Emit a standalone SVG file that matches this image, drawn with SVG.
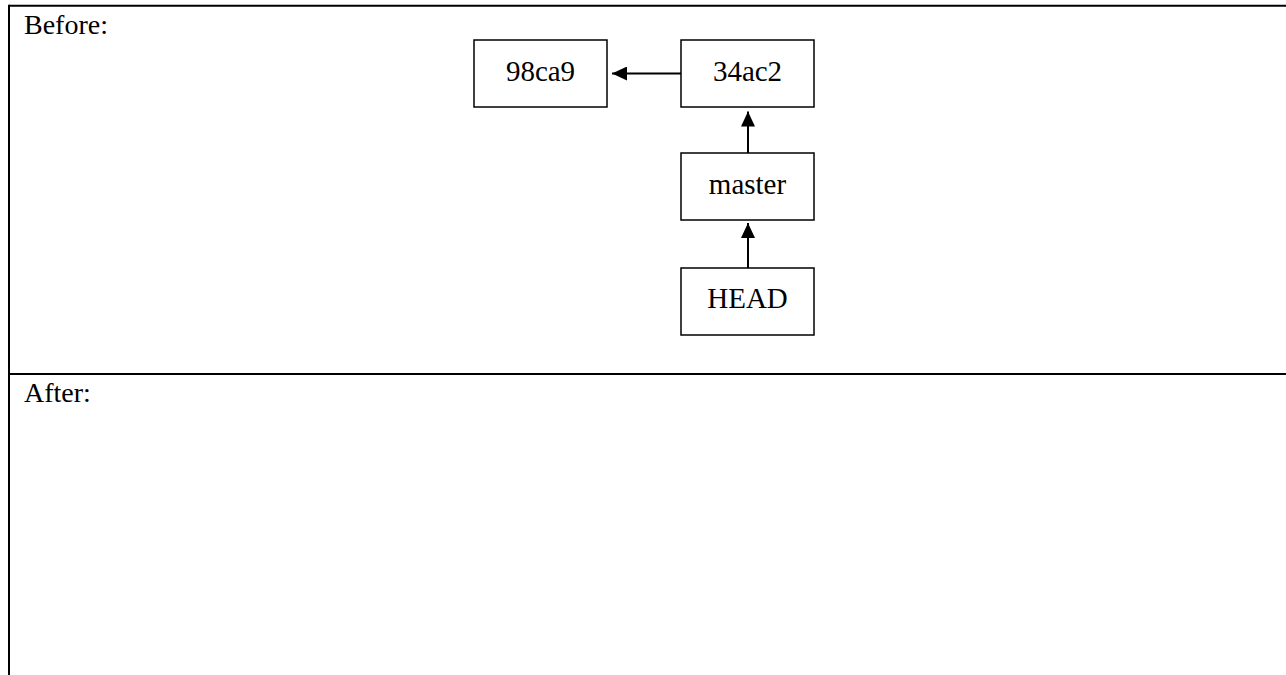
<svg xmlns="http://www.w3.org/2000/svg" width="1286" height="675" viewBox="0 0 1286 675">
<defs>
<style>
.frame{stroke:#000;stroke-width:2;fill:none}
.box{fill:#fff;stroke:#000;stroke-width:1.5}
.lbl{font-family:"Liberation Serif","Times New Roman",serif;font-size:29px;fill:#000}
.hdr{font-family:"Liberation Serif","Times New Roman",serif;font-size:28px;fill:#000}
.edge{stroke:#000;stroke-width:2;fill:none}
</style>
<marker id="ah" viewBox="0 0 15 14" refX="15" refY="7" markerWidth="15" markerHeight="14" markerUnits="userSpaceOnUse" orient="auto">
<path d="M0,0 L15,7 L0,14 Z" fill="#000"/>
</marker>
</defs>
<rect width="1286" height="675" fill="#fff"/>
<g id="frame">
<line class="frame" x1="9" y1="5.7" x2="1286" y2="5.7"/>
<line class="frame" x1="9" y1="374" x2="1286" y2="374"/>
<line class="frame" x1="9" y1="4.7" x2="9" y2="675"/>
<text class="hdr" x="24" y="33.5">Before:</text>
<text class="hdr" x="24" y="401.5">After:</text>
</g>
<g id="connectors">
<line class="edge" x1="681" y1="73.5" x2="612" y2="73.5" marker-end="url(#ah)"/>
<line class="edge" x1="748" y1="153" x2="748" y2="111.5" marker-end="url(#ah)"/>
<line class="edge" x1="748" y1="268" x2="748" y2="223" marker-end="url(#ah)"/>
</g>
<g id="n98ca9">
<rect class="box" x="474" y="40" width="133" height="67"/>
<text class="lbl" x="540.5" y="80.5" text-anchor="middle">98ca9</text>
</g>
<g id="n34ac2">
<rect class="box" x="681" y="40" width="133" height="67"/>
<text class="lbl" x="747.5" y="80.5" text-anchor="middle">34ac2</text>
</g>
<g id="master">
<rect class="box" x="681" y="153" width="133" height="67"/>
<text class="lbl" x="747.5" y="193.5" text-anchor="middle">master</text>
</g>
<g id="HEAD">
<rect class="box" x="681" y="268" width="133" height="67"/>
<text class="lbl" x="747.5" y="307.5" text-anchor="middle">HEAD</text>
</g>
</svg>
